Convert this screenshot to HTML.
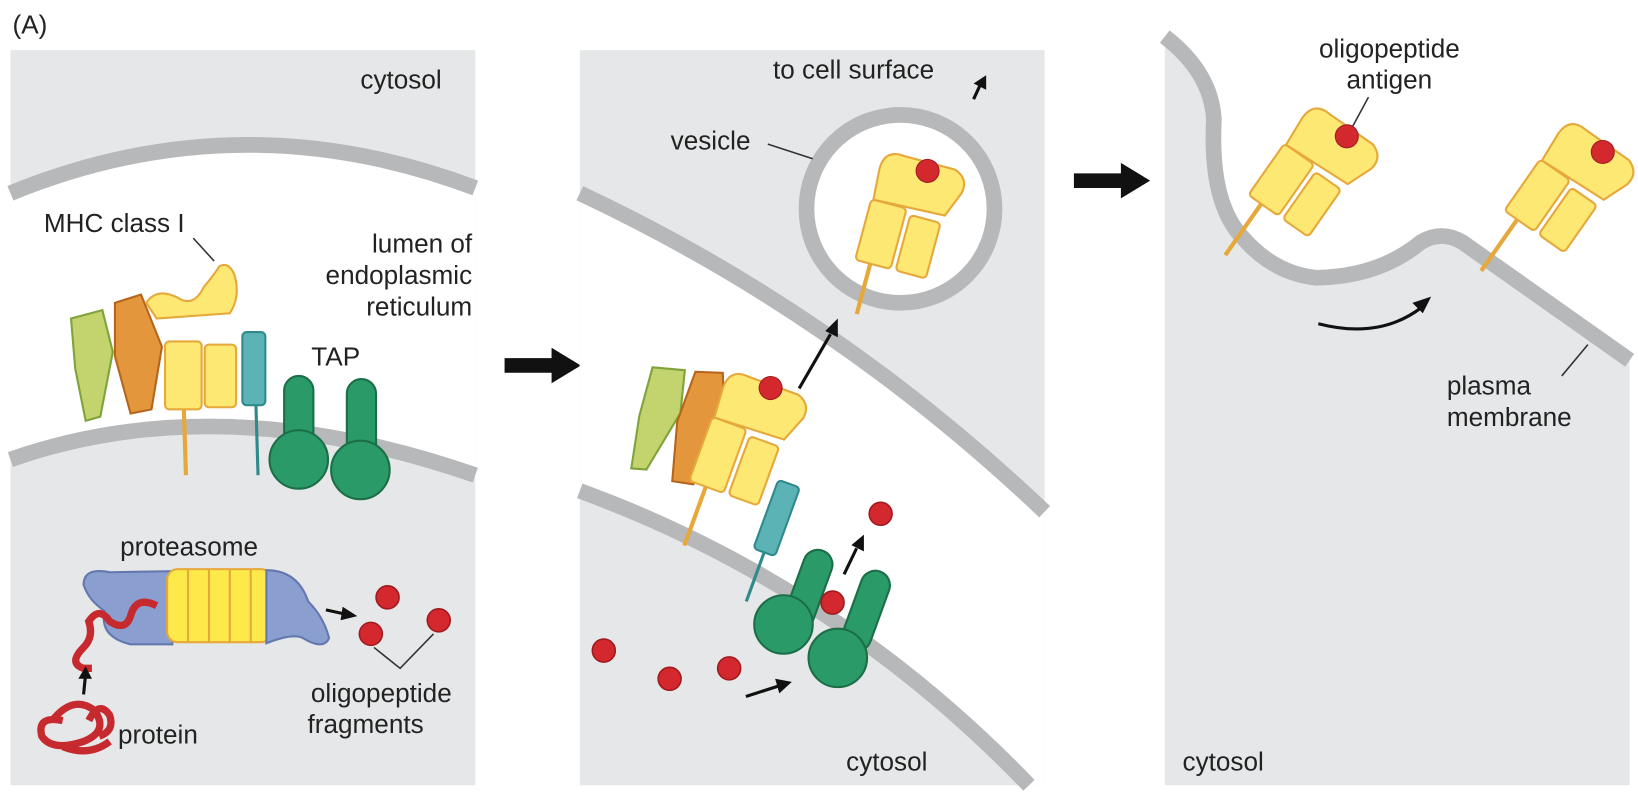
<!DOCTYPE html>
<html><head><meta charset="utf-8"><style>
html,body{margin:0;padding:0;background:#fff;overflow:hidden}
svg{display:block}
text{font-family:"Liberation Sans",sans-serif;font-size:25px;fill:#222}
</style></head><body>
<svg width="1638" height="802" viewBox="0 0 1568 768" preserveAspectRatio="none">
<text x="12" y="32">(A)</text>

<!-- Panel 1 -->
<g>
 <rect x="10" y="48" width="445" height="704" fill="#e6e7e8"/>
 <path d="M10,185 Q230,95 455,180 L455,455 Q210,370 10,440 Z" fill="#fff"/>
 <path d="M10,185 Q230,95 455,180" fill="none" stroke="#b7b8ba" stroke-width="15"/>
 <path d="M10,440 Q210,370 455,455" fill="none" stroke="#b7b8ba" stroke-width="15"/>
 <text x="345" y="85">cytosol</text>
 <text x="42" y="222">MHC class I</text>
 <path d="M185,228 L205,250" stroke="#333" stroke-width="1.5"/>
 <text x="452" y="242" text-anchor="end">lumen of</text>
 <text x="452" y="272" text-anchor="end">endoplasmic</text>
 <text x="452" y="302" text-anchor="end">reticulum</text>
 <text x="298" y="350">TAP</text>
 <g>
  <path d="M68,305 l30,-8 l10,40 l-12,62 l-14,4 l-10,-50 z" fill="#c3d36e" stroke="#7ea33b" stroke-width="2"/>
  <path d="M110,290 l25,-8 l20,50 l-10,60 l-20,4 l-15,-55 z" fill="#e3963b" stroke="#b5651c" stroke-width="2"/>
  <path d="M140,290 q10,-15 30,-5 q15,10 25,-10 q10,-12 15,-20 q10,-5 15,10 q5,20 -5,35 l-70,5 z" fill="#fde873" stroke="#e6a83a" stroke-width="2"/>
  <rect x="158" y="327" width="35" height="65" rx="4" fill="#fde873" stroke="#e6a83a" stroke-width="2"/>
  <rect x="196" y="330" width="30" height="60" rx="4" fill="#fde873" stroke="#e6a83a" stroke-width="2"/>
  <line x1="176" y1="392" x2="178" y2="455" stroke="#e6a83a" stroke-width="4"/>
  <rect x="232" y="318" width="22" height="70" rx="4" fill="#5cb3b5" stroke="#2f8a8c" stroke-width="2"/>
  <line x1="245" y1="388" x2="247" y2="455" stroke="#2f8a8c" stroke-width="3"/>
 </g>
 <g fill="#2a9b68" stroke="#1b6e47" stroke-width="2">
  <rect x="272" y="360" width="28" height="80" rx="14"/>
  <rect x="332" y="363" width="28" height="80" rx="14"/>
  <circle cx="286" cy="440" r="28"/>
  <circle cx="345" cy="450" r="28"/>
 </g>
 <text x="115" y="532">proteasome</text>
 <g>
  <path d="M105,548 q-25,-5 -25,12 q5,15 20,25 q-5,25 25,32 l40,0 l0,-70 z" fill="#8a9fd0" stroke="#6478b0" stroke-width="2"/>
  <rect x="160" y="545" width="100" height="70" rx="10" fill="#fde94a" stroke="#e6a83a" stroke-width="2"/>
  <path d="M255,546 q30,0 40,30 q15,15 20,35 q-5,12 -25,0 q-10,-5 -35,5 z" fill="#8a9fd0" stroke="#6478b0" stroke-width="2"/>
  <path d="M180,545 v70 M200,545 v70 M220,545 v70 M240,545 v70" stroke="#e6a83a" stroke-width="2"/>
 </g>
 <path d="M150,580 q-20,-10 -25,10 q-5,15 -20,5 q-10,-15 -20,0 q5,15 -5,25 q-15,15 0,20 l8,0" fill="none" stroke="#c62a2f" stroke-width="7"/>
 <path d="M50,690 q20,-25 40,-10 q15,20 -10,30 q-30,10 -40,-5 q-5,-20 20,-15 M60,715 q25,10 45,-5 M85,690 q10,-20 20,-5 q5,15 -10,20" fill="none" stroke="#c62a2f" stroke-width="7"/>
 <line x1="80" y1="665" x2="82" y2="645" stroke="#111" stroke-width="3"/><path d="M75,650 l7,-12 l6,12 z" fill="#111"/>
 <text x="113" y="712">protein</text>
 <line x1="312" y1="584" x2="330" y2="588" stroke="#111" stroke-width="3"/><path d="M328,581 l14,9 l-16,4 z" fill="#111"/>
 <g fill="#d4282f" stroke="#a01a1e" stroke-width="1.5">
  <circle cx="371" cy="572" r="11"/><circle cx="355" cy="607" r="11"/><circle cx="420" cy="594" r="11"/>
 </g>
 <path d="M358,620 L383,640 L415,607" fill="none" stroke="#333" stroke-width="1.5"/>
 <text x="365" y="672" text-anchor="middle">oligopeptide</text>
 <text x="350" y="702" text-anchor="middle">fragments</text>
</g>

<path d="M483,343 h45 v-10 l28,17 l-28,17 v-10 h-45 z" fill="#111"/>

<!-- Panel 2 -->
<g>
 <rect x="555" y="48" width="445" height="704" fill="#e6e7e8"/>
 <path d="M555,185 Q800,300 1000,490 L1000,752 L985,752 Q800,560 555,470 Z" fill="#fff"/>
 <path d="M555,185 Q800,300 1000,490" fill="none" stroke="#b7b8ba" stroke-width="15"/>
 <path d="M555,470 Q800,560 985,752" fill="none" stroke="#b7b8ba" stroke-width="15"/>
 <circle cx="862" cy="200" r="90" fill="#fff" stroke="#b7b8ba" stroke-width="15"/>
 <text x="740" y="75">to cell surface</text>
 <line x1="932" y1="95" x2="938" y2="82" stroke="#111" stroke-width="3"/><path d="M932,80 l12,-8 l0,14 z" fill="#111"/>
 <text x="642" y="143">vesicle</text>
 <path d="M735,138 L778,152" stroke="#333" stroke-width="1.5"/>
 <g transform="translate(865,230) rotate(15)">
  <path d="M-40,-60 q0,-20 20,-18 l50,0 q15,5 12,20 l-10,25 l-70,3 z" fill="#fde873" stroke="#e6a83a" stroke-width="2"/>
  <rect x="-40" y="-30" width="35" height="60" rx="4" fill="#fde873" stroke="#e6a83a" stroke-width="2"/>
  <rect x="0" y="-25" width="30" height="55" rx="4" fill="#fde873" stroke="#e6a83a" stroke-width="2"/>
  <line x1="-25" y1="30" x2="-25" y2="80" stroke="#e6a83a" stroke-width="4"/>
  <circle cx="5" cy="-70" r="11" fill="#d4282f" stroke="#a01a1e"/>
 </g>
 <line x1="765" y1="372" x2="795" y2="320" stroke="#111" stroke-width="3"/><path d="M790,317 l12,-12 l0,18 z" fill="#111"/>
 <g transform="translate(690,450) rotate(20)">
  <path d="M-95,-70 l30,-8 l10,40 l-12,62 l-14,4 l-10,-50 z" fill="#c3d36e" stroke="#7ea33b" stroke-width="2"/>
  <path d="M-55,-80 l25,-8 l20,50 l-10,60 l-20,4 l-15,-55 z" fill="#e3963b" stroke="#b5651c" stroke-width="2"/>
  <path d="M-25,-75 q0,-20 20,-18 l50,0 q15,5 12,20 l-10,25 l-70,3 z" fill="#fde873" stroke="#e6a83a" stroke-width="2"/>
  <rect x="-25" y="-45" width="35" height="65" rx="4" fill="#fde873" stroke="#e6a83a" stroke-width="2"/>
  <rect x="15" y="-40" width="30" height="60" rx="4" fill="#fde873" stroke="#e6a83a" stroke-width="2"/>
  <line x1="-8" y1="20" x2="-8" y2="80" stroke="#e6a83a" stroke-width="4"/>
  <rect x="55" y="-10" width="22" height="70" rx="4" fill="#5cb3b5" stroke="#2f8a8c" stroke-width="2"/>
  <line x1="66" y1="60" x2="66" y2="110" stroke="#2f8a8c" stroke-width="3"/>
  <circle cx="18" cy="-90" r="11" fill="#d4282f" stroke="#a01a1e"/>
 </g>
 <g fill="#2a9b68" stroke="#1b6e47" stroke-width="2">
  <rect x="760" y="525" width="28" height="80" rx="14" transform="rotate(20 774 565)"/>
  <rect x="815" y="545" width="28" height="80" rx="14" transform="rotate(20 829 585)"/>
  <circle cx="750" cy="598" r="28"/>
  <circle cx="802" cy="630" r="28"/>
 </g>
 <g fill="#d4282f" stroke="#a01a1e" stroke-width="1.5">
  <circle cx="843" cy="492" r="11"/><circle cx="797" cy="577" r="11"/><circle cx="578" cy="623" r="11"/><circle cx="641" cy="650" r="11"/><circle cx="698" cy="640" r="11"/>
 </g>
 <line x1="808" y1="550" x2="820" y2="525" stroke="#111" stroke-width="3"/><path d="M815,522 l12,-10 l0,16 z" fill="#111"/>
 <line x1="714" y1="667" x2="745" y2="657" stroke="#111" stroke-width="3"/><path d="M742,650 l16,3 l-12,11 z" fill="#111"/>
 <text x="810" y="738">cytosol</text>
</g>

<path d="M1028,166 h45 v-10 l28,17 l-28,17 v-10 h-45 z" fill="#111"/>

<!-- Panel 3 -->
<g>
 <path d="M1115,35 Q1160,70 1162,115 Q1158,195 1190,228 Q1220,262 1260,266 Q1320,265 1360,232 Q1380,220 1400,232 L1560,345 L1560,752 L1115,752 Z" fill="#e6e7e8"/>
 <path d="M1115,35 Q1160,70 1162,115 Q1158,195 1190,228 Q1220,262 1260,266 Q1320,265 1360,232 Q1380,220 1400,232 L1560,345" fill="none" stroke="#b7b8ba" stroke-width="15"/>
 <text x="1330" y="55" text-anchor="middle">oligopeptide</text>
 <text x="1330" y="85" text-anchor="middle">antigen</text>
 <path d="M1310,93 L1290,130" stroke="#333" stroke-width="1.5"/>
 <g transform="translate(1245,185) rotate(35)">
  <path d="M-40,-60 q0,-20 20,-18 l50,0 q15,5 12,20 l-10,25 l-70,3 z" fill="#fde873" stroke="#e6a83a" stroke-width="2"/>
  <rect x="-40" y="-30" width="35" height="60" rx="4" fill="#fde873" stroke="#e6a83a" stroke-width="2"/>
  <rect x="0" y="-25" width="30" height="55" rx="4" fill="#fde873" stroke="#e6a83a" stroke-width="2"/>
  <line x1="-25" y1="30" x2="-25" y2="90" stroke="#e6a83a" stroke-width="4"/>
  <circle cx="5" cy="-70" r="11" fill="#d4282f" stroke="#a01a1e"/>
 </g>
 <g transform="translate(1490,200) rotate(35)">
  <path d="M-40,-60 q0,-20 20,-18 l50,0 q15,5 12,20 l-10,25 l-70,3 z" fill="#fde873" stroke="#e6a83a" stroke-width="2"/>
  <rect x="-40" y="-30" width="35" height="60" rx="4" fill="#fde873" stroke="#e6a83a" stroke-width="2"/>
  <rect x="0" y="-25" width="30" height="55" rx="4" fill="#fde873" stroke="#e6a83a" stroke-width="2"/>
  <line x1="-25" y1="30" x2="-25" y2="90" stroke="#e6a83a" stroke-width="4"/>
  <circle cx="5" cy="-70" r="11" fill="#d4282f" stroke="#a01a1e"/>
 </g>
 <path d="M1262,310 Q1320,325 1360,295" fill="none" stroke="#111" stroke-width="3"/><path d="M1352,290 l18,-6 l-8,16 z" fill="#111"/>
 <path d="M1520,330 L1495,360" stroke="#333" stroke-width="1.5"/>
 <text x="1385" y="378">plasma</text>
 <text x="1385" y="408">membrane</text>
 <text x="1132" y="738">cytosol</text>
</g>
</svg>
</body></html>
